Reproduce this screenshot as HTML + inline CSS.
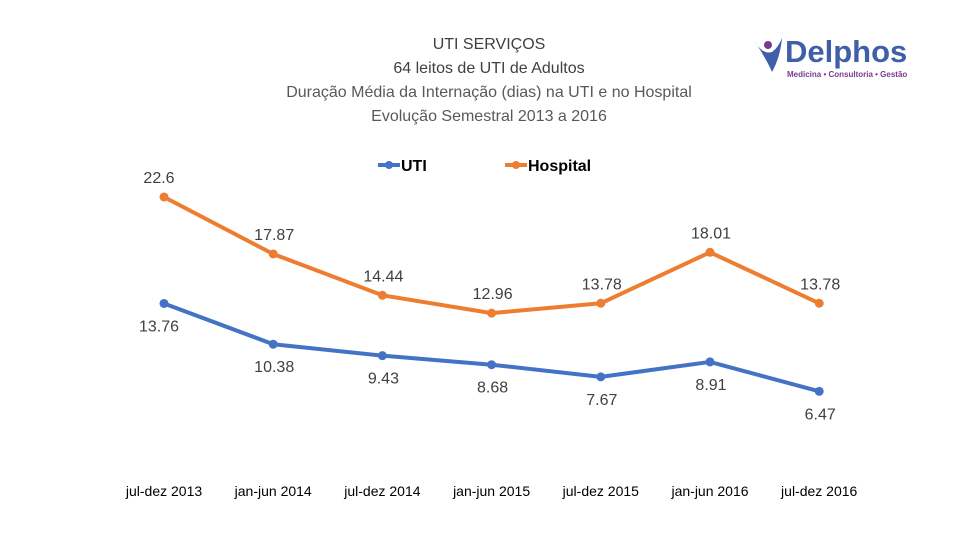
<!DOCTYPE html>
<html><head><meta charset="utf-8"><style>
body{margin:0;background:#fff;}
svg{display:block;font-family:"Liberation Sans",sans-serif;}
</style></head><body>
<svg id="chart" width="960" height="540" viewBox="0 0 960 540">
<g text-anchor="middle" font-size="16" fill="#404040">
<text x="489" y="49">UTI SERVIÇOS</text>
<text x="489" y="73">64 leitos de UTI de Adultos</text>
<text x="489" y="97" fill="#595959">Duração Média da Internação (dias) na UTI e no Hospital</text>
<text x="489" y="121" fill="#595959">Evolução Semestral 2013 a 2016</text>
</g>
<g>
<circle cx="768" cy="45" r="4" fill="#7a3a8c"/>
<path d="M754 40 Q762 55 772 52 Q778 48 782 38 Q780 58 772 72 Q768 62 754 40Z" fill="#3f5fa8"/>
<text x="785" y="62" font-size="31" font-weight="bold" fill="#3f5fa8">Delphos</text>
<text x="787" y="77" font-size="8" font-weight="bold" fill="#7a3a8c">Medicina • Consultoria • Gestão</text>
</g>
<g font-size="16" font-weight="bold" fill="#000">
<g><line x1="378" y1="165" x2="400" y2="165" stroke="#4472c4" stroke-width="4"/><circle cx="389" cy="165" r="4" fill="#4472c4"/><text x="401" y="171">UTI</text></g>
<g><line x1="505" y1="165" x2="527" y2="165" stroke="#ed7d31" stroke-width="4"/><circle cx="516" cy="165" r="4" fill="#ed7d31"/><text x="528" y="171">Hospital</text></g>
</g>
<g id="plot"></g>
</svg>
<script>
const categories=["jul-dez 2013","jan-jun 2014","jul-dez 2014","jan-jun 2015","jul-dez 2015","jan-jun 2016","jul-dez 2016"];
const utiValues=[13.76,10.38,9.43,8.68,7.67,8.91,6.47];
const hospitalValues=[22.6,17.87,14.44,12.96,13.78,18.01,13.78];
const NS="http://www.w3.org/2000/svg";
const plot=document.getElementById('plot');
function xPos(i){return 164+i*109.2;}
function yPos(v){return 469.3-v*12.05;}
function mk(tag,attrs){const e=document.createElementNS(NS,tag);for(const k in attrs)e.setAttribute(k,attrs[k]);plot.appendChild(e);return e;}
function series(vals,color,name,dy){
  const pts=vals.map((v,i)=>xPos(i)+','+yPos(v)).join(' ');
  const pl=mk('polyline',{points:pts,fill:'none',stroke:color,'stroke-width':4,'stroke-linejoin':'round'});
  
  
  vals.forEach((v,i)=>{
    const c=mk('circle',{cx:xPos(i),cy:yPos(v),r:4.5,fill:color});
    
    
    const t=mk('text',{x:xPos(i)+(i===0?-5:1),y:yPos(v)+dy+6,'text-anchor':'middle','font-size':16,fill:'#404040'});
    t.textContent=String(v);
    
    
  });
}
series(hospitalValues,'#ed7d31','hospital',-20);
series(utiValues,'#4472c4','uti',22);
categories.forEach((c,i)=>{
  const t=mk('text',{x:xPos(i),y:496,'text-anchor':'middle','font-size':14,fill:'#000'});
  t.textContent=c;
  
  
});
</script>
</body></html>
